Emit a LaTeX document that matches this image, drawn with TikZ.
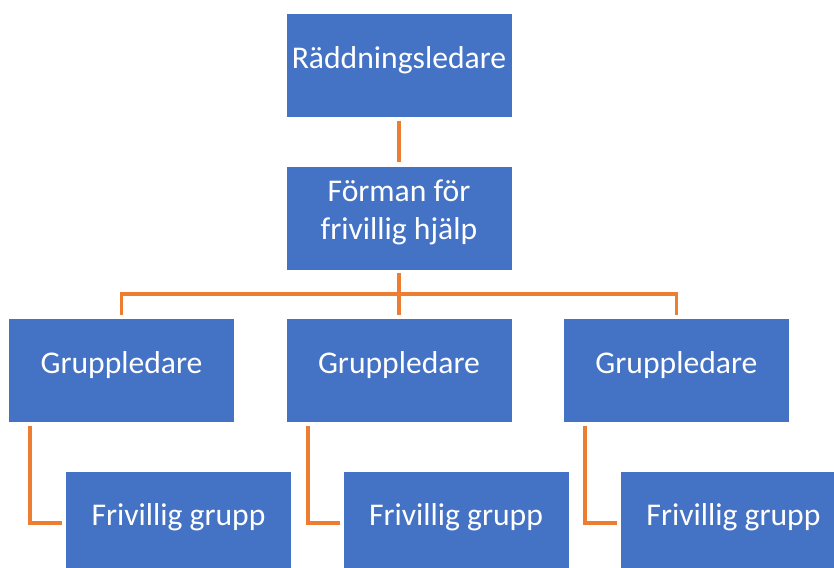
\documentclass[tikz,border=0pt]{standalone}
\usepackage{fontspec}
\setmainfont{Carlito}
\usetikzlibrary{
calc,
positioning
}
\definecolor{boxblue}{HTML}{4472C4}
\definecolor{linkorange}{HTML}{ED7D31}
\tikzset{>=latex}

\begin{document}
\begin{tikzpicture}[node distance=1.44cm and 1.53cm,
	orgbox/.style={draw=white, line width=0.4pt, fill=boxblue, text=white, minimum width=6.78cm, minimum height=3.12cm, align=center, inner sep=0pt, text depth=0.5cm, font=\fontsize{27}{32}\selectfont},
	link/.style={draw=linkorange, line width=0.11cm}]
		% frame of the page
		\clip (-11.97,1.965) rectangle (13.05,-15.075);
		\useasboundingbox (-11.97,1.965) rectangle (13.05,-15.075);
		% chain of command
		\node[orgbox] at (0,0) (raddning) {Räddningsledare};
		\node[orgbox, below=of raddning] (forman) {Förman för\\frivillig hjälp};
		
		\node[orgbox, below=of forman] (grupp2) {Gruppledare};
		\node[orgbox, left=of grupp2] (grupp1) {Gruppledare};
		\node[orgbox, right=of grupp2] (grupp3) {Gruppledare};
		
		\node[orgbox, below=of grupp1, xshift=1.71cm] (frivillig1) {Frivillig grupp};
		\node[orgbox, below=of grupp2, xshift=1.71cm] (frivillig2) {Frivillig grupp};
		\node[orgbox, below=of grupp3, xshift=1.71cm] (frivillig3) {Frivillig grupp};
		
		% connectors
		\draw[link, shorten <=0.09cm, shorten >=0.12cm] (raddning) -- (forman);
		\draw[link, shorten <=0.09cm] (forman.south) -- ++(0,-0.72) coordinate (bus);
		\draw[link, shorten >=0.09cm] (bus) -| (grupp1.north);
		\draw[link, shorten >=0.09cm] (bus) -- (grupp2.north);
		\draw[link, shorten >=0.09cm] (bus) -| (grupp3.north);
		\foreach \i in {1,2,3}
			\draw[link, shorten <=0.09cm, shorten >=0.09cm] ($(grupp\i.south west)+(0.66,0)$) |- (frivillig\i.west);
\end{tikzpicture}
\end{document}
